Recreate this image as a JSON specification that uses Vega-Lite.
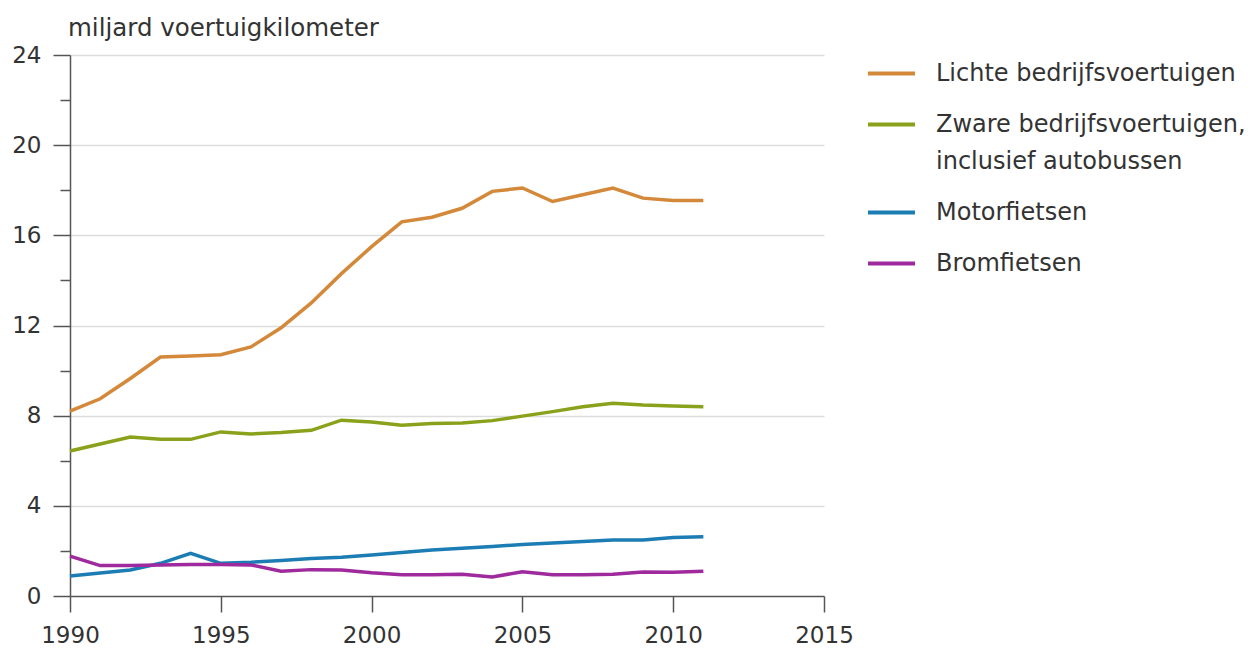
{
  "$schema": "https://vega.github.io/schema/vega-lite/v6.json",
  "width": 754,
  "height": 541,
  "autosize": {"type": "none"},
  "padding": {"left": 70, "top": 55, "right": 431, "bottom": 55},
  "title": {"text": "miljard voertuigkilometer", "anchor": "start", "frame": "group", "font": "DejaVu Sans", "fontSize": 24.5, "fontWeight": "normal", "color": "#333333", "offset": 3, "dx": -2},
  "config": {"view": {"stroke": null}, "font": "DejaVu Sans"},
  "data": {"values": [
    {"jaar": 1990, "reeks": "Lichte bedrijfsvoertuigen", "waarde": 8.2},
    {"jaar": 1991, "reeks": "Lichte bedrijfsvoertuigen", "waarde": 8.75},
    {"jaar": 1992, "reeks": "Lichte bedrijfsvoertuigen", "waarde": 9.65},
    {"jaar": 1993, "reeks": "Lichte bedrijfsvoertuigen", "waarde": 10.6},
    {"jaar": 1994, "reeks": "Lichte bedrijfsvoertuigen", "waarde": 10.65},
    {"jaar": 1995, "reeks": "Lichte bedrijfsvoertuigen", "waarde": 10.7},
    {"jaar": 1996, "reeks": "Lichte bedrijfsvoertuigen", "waarde": 11.05},
    {"jaar": 1997, "reeks": "Lichte bedrijfsvoertuigen", "waarde": 11.9},
    {"jaar": 1998, "reeks": "Lichte bedrijfsvoertuigen", "waarde": 13.0},
    {"jaar": 1999, "reeks": "Lichte bedrijfsvoertuigen", "waarde": 14.3},
    {"jaar": 2000, "reeks": "Lichte bedrijfsvoertuigen", "waarde": 15.5},
    {"jaar": 2001, "reeks": "Lichte bedrijfsvoertuigen", "waarde": 16.6},
    {"jaar": 2002, "reeks": "Lichte bedrijfsvoertuigen", "waarde": 16.8},
    {"jaar": 2003, "reeks": "Lichte bedrijfsvoertuigen", "waarde": 17.2},
    {"jaar": 2004, "reeks": "Lichte bedrijfsvoertuigen", "waarde": 17.95},
    {"jaar": 2005, "reeks": "Lichte bedrijfsvoertuigen", "waarde": 18.1},
    {"jaar": 2006, "reeks": "Lichte bedrijfsvoertuigen", "waarde": 17.5},
    {"jaar": 2007, "reeks": "Lichte bedrijfsvoertuigen", "waarde": 17.8},
    {"jaar": 2008, "reeks": "Lichte bedrijfsvoertuigen", "waarde": 18.1},
    {"jaar": 2009, "reeks": "Lichte bedrijfsvoertuigen", "waarde": 17.65},
    {"jaar": 2010, "reeks": "Lichte bedrijfsvoertuigen", "waarde": 17.55},
    {"jaar": 2011, "reeks": "Lichte bedrijfsvoertuigen", "waarde": 17.55},
    {"jaar": 1990, "reeks": "Zware bedrijfsvoertuigen, inclusief autobussen", "waarde": 6.43},
    {"jaar": 1991, "reeks": "Zware bedrijfsvoertuigen, inclusief autobussen", "waarde": 6.74},
    {"jaar": 1992, "reeks": "Zware bedrijfsvoertuigen, inclusief autobussen", "waarde": 7.05},
    {"jaar": 1993, "reeks": "Zware bedrijfsvoertuigen, inclusief autobussen", "waarde": 6.95},
    {"jaar": 1994, "reeks": "Zware bedrijfsvoertuigen, inclusief autobussen", "waarde": 6.95},
    {"jaar": 1995, "reeks": "Zware bedrijfsvoertuigen, inclusief autobussen", "waarde": 7.28},
    {"jaar": 1996, "reeks": "Zware bedrijfsvoertuigen, inclusief autobussen", "waarde": 7.19},
    {"jaar": 1997, "reeks": "Zware bedrijfsvoertuigen, inclusief autobussen", "waarde": 7.25},
    {"jaar": 1998, "reeks": "Zware bedrijfsvoertuigen, inclusief autobussen", "waarde": 7.35},
    {"jaar": 1999, "reeks": "Zware bedrijfsvoertuigen, inclusief autobussen", "waarde": 7.8},
    {"jaar": 2000, "reeks": "Zware bedrijfsvoertuigen, inclusief autobussen", "waarde": 7.72},
    {"jaar": 2001, "reeks": "Zware bedrijfsvoertuigen, inclusief autobussen", "waarde": 7.58},
    {"jaar": 2002, "reeks": "Zware bedrijfsvoertuigen, inclusief autobussen", "waarde": 7.65},
    {"jaar": 2003, "reeks": "Zware bedrijfsvoertuigen, inclusief autobussen", "waarde": 7.68},
    {"jaar": 2004, "reeks": "Zware bedrijfsvoertuigen, inclusief autobussen", "waarde": 7.78},
    {"jaar": 2005, "reeks": "Zware bedrijfsvoertuigen, inclusief autobussen", "waarde": 7.98},
    {"jaar": 2006, "reeks": "Zware bedrijfsvoertuigen, inclusief autobussen", "waarde": 8.18},
    {"jaar": 2007, "reeks": "Zware bedrijfsvoertuigen, inclusief autobussen", "waarde": 8.4},
    {"jaar": 2008, "reeks": "Zware bedrijfsvoertuigen, inclusief autobussen", "waarde": 8.55},
    {"jaar": 2009, "reeks": "Zware bedrijfsvoertuigen, inclusief autobussen", "waarde": 8.47},
    {"jaar": 2010, "reeks": "Zware bedrijfsvoertuigen, inclusief autobussen", "waarde": 8.43},
    {"jaar": 2011, "reeks": "Zware bedrijfsvoertuigen, inclusief autobussen", "waarde": 8.4},
    {"jaar": 1990, "reeks": "Motorfietsen", "waarde": 0.89},
    {"jaar": 1991, "reeks": "Motorfietsen", "waarde": 1.02},
    {"jaar": 1992, "reeks": "Motorfietsen", "waarde": 1.15},
    {"jaar": 1993, "reeks": "Motorfietsen", "waarde": 1.45},
    {"jaar": 1994, "reeks": "Motorfietsen", "waarde": 1.89},
    {"jaar": 1995, "reeks": "Motorfietsen", "waarde": 1.45},
    {"jaar": 1996, "reeks": "Motorfietsen", "waarde": 1.5},
    {"jaar": 1997, "reeks": "Motorfietsen", "waarde": 1.58},
    {"jaar": 1998, "reeks": "Motorfietsen", "waarde": 1.66},
    {"jaar": 1999, "reeks": "Motorfietsen", "waarde": 1.72},
    {"jaar": 2000, "reeks": "Motorfietsen", "waarde": 1.82},
    {"jaar": 2001, "reeks": "Motorfietsen", "waarde": 1.93},
    {"jaar": 2002, "reeks": "Motorfietsen", "waarde": 2.04},
    {"jaar": 2003, "reeks": "Motorfietsen", "waarde": 2.12},
    {"jaar": 2004, "reeks": "Motorfietsen", "waarde": 2.2},
    {"jaar": 2005, "reeks": "Motorfietsen", "waarde": 2.28},
    {"jaar": 2006, "reeks": "Motorfietsen", "waarde": 2.35},
    {"jaar": 2007, "reeks": "Motorfietsen", "waarde": 2.42},
    {"jaar": 2008, "reeks": "Motorfietsen", "waarde": 2.48},
    {"jaar": 2009, "reeks": "Motorfietsen", "waarde": 2.48},
    {"jaar": 2010, "reeks": "Motorfietsen", "waarde": 2.6},
    {"jaar": 2011, "reeks": "Motorfietsen", "waarde": 2.63},
    {"jaar": 1990, "reeks": "Bromfietsen", "waarde": 1.77},
    {"jaar": 1991, "reeks": "Bromfietsen", "waarde": 1.35},
    {"jaar": 1992, "reeks": "Bromfietsen", "waarde": 1.35},
    {"jaar": 1993, "reeks": "Bromfietsen", "waarde": 1.37},
    {"jaar": 1994, "reeks": "Bromfietsen", "waarde": 1.4},
    {"jaar": 1995, "reeks": "Bromfietsen", "waarde": 1.4},
    {"jaar": 1996, "reeks": "Bromfietsen", "waarde": 1.38},
    {"jaar": 1997, "reeks": "Bromfietsen", "waarde": 1.1},
    {"jaar": 1998, "reeks": "Bromfietsen", "waarde": 1.17},
    {"jaar": 1999, "reeks": "Bromfietsen", "waarde": 1.15},
    {"jaar": 2000, "reeks": "Bromfietsen", "waarde": 1.03},
    {"jaar": 2001, "reeks": "Bromfietsen", "waarde": 0.94},
    {"jaar": 2002, "reeks": "Bromfietsen", "waarde": 0.94},
    {"jaar": 2003, "reeks": "Bromfietsen", "waarde": 0.97},
    {"jaar": 2004, "reeks": "Bromfietsen", "waarde": 0.84},
    {"jaar": 2005, "reeks": "Bromfietsen", "waarde": 1.08},
    {"jaar": 2006, "reeks": "Bromfietsen", "waarde": 0.94},
    {"jaar": 2007, "reeks": "Bromfietsen", "waarde": 0.94},
    {"jaar": 2008, "reeks": "Bromfietsen", "waarde": 0.96},
    {"jaar": 2009, "reeks": "Bromfietsen", "waarde": 1.06},
    {"jaar": 2010, "reeks": "Bromfietsen", "waarde": 1.05},
    {"jaar": 2011, "reeks": "Bromfietsen", "waarde": 1.1}
  ]},
  "mark": {"type": "line", "strokeWidth": 3.5, "interpolate": "linear"},
  "encoding": {
    "x": {
      "field": "jaar", "type": "quantitative",
      "scale": {"domain": [1990, 2015], "nice": false, "zero": false},
      "axis": {"values": [1990, 1995, 2000, 2005, 2010, 2015], "format": "d", "title": null, "grid": false,
        "tickSize": 16, "tickColor": "#555555", "tickWidth": 1.5, "domainColor": "#555555", "domainWidth": 1.5,
        "labelFontSize": 23, "labelColor": "#333333", "labelPadding": 12, "labelFont": "DejaVu Sans", "labelFlush": false}
    },
    "y": {
      "field": "waarde", "type": "quantitative",
      "scale": {"domain": [0, 24], "nice": false},
      "axis": {"values": [0, 2, 4, 6, 8, 10, 12, 14, 16, 18, 20, 22, 24], "title": null,
        "labelExpr": "datum.value % 4 === 0 ? datum.label : ''",
        "tickSize": {"condition": {"test": "datum.value % 4 === 0", "value": 17}, "value": 10},
        "gridOpacity": {"condition": {"test": "datum.value % 4 === 0 && datum.value > 0", "value": 1}, "value": 0},
        "gridColor": "#dddddd", "gridWidth": 1.5,
        "tickColor": "#555555", "tickWidth": 1.5, "domainColor": "#555555", "domainWidth": 1.5,
        "labelFontSize": 23, "labelColor": "#333333", "labelPadding": 12, "labelFont": "DejaVu Sans"}
    },
    "color": {
      "field": "reeks", "type": "nominal",
      "scale": {
        "domain": ["Lichte bedrijfsvoertuigen", "Zware bedrijfsvoertuigen, inclusief autobussen", "Motorfietsen", "Bromfietsen"],
        "range": ["#d4883a", "#8aa21b", "#1b7db3", "#9e2a9d"]
      },
      "legend": {
        "orient": "none", "legendX": 796, "legendY": -7, "title": null,
        "symbolType": "stroke", "symbolSize": 2209, "symbolStrokeWidth": 4,
        "labelFontSize": 24, "labelColor": "#333333", "labelOffset": 19, "labelFont": "DejaVu Sans",
        "rowPadding": 13, "labelLimit": 400,
        "labelExpr": "datum.label === 'Zware bedrijfsvoertuigen, inclusief autobussen' ? ['Zware bedrijfsvoertuigen,', 'inclusief autobussen'] : datum.label",
        "encode": {"labels": {"update": {"lineHeight": {"value": 37}}}}
      }
    }
  }
}
